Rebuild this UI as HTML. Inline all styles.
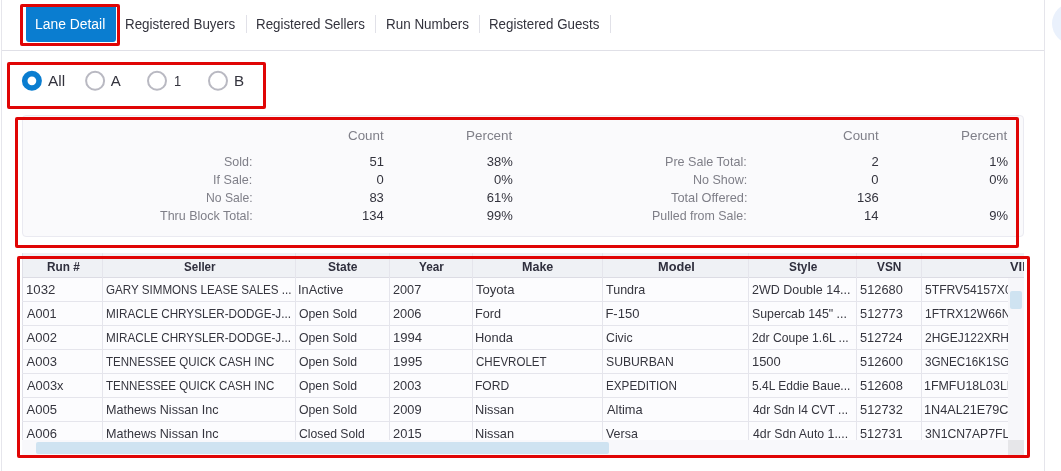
<!DOCTYPE html>
<html lang="en"><head><meta charset="utf-8"><title>Lane Detail</title>
<style>
html,body{margin:0;padding:0;background:#fff;}
body{width:1061px;height:471px;position:relative;overflow:hidden;font-family:"Liberation Sans", sans-serif;}
.t{position:absolute;white-space:pre;line-height:1;transform-origin:0 0;}
i{position:absolute;display:block;}
.sep{width:1px;top:15px;height:18px;background:#e1e1e8;}
.rd{top:70.8px;width:20px;height:20px;box-sizing:border-box;border:2px solid #b9b9c2;border-radius:50%;background:#fff;}
.red{box-sizing:border-box;border:3px solid #e00505;border-radius:2px;}
.v{top:253px;width:1px;height:187px;background:#e5e5ec;}
.h{left:22px;width:986px;height:1px;background:#e5e5ec;}
.clip{position:absolute;overflow:hidden;}
</style></head><body>
<i style="left:1px;top:0;width:1px;height:471px;background:#e6e6ec"></i>
<i style="left:1044px;top:0;width:1px;height:471px;background:#e5e5eb"></i>
<i style="left:2px;top:50px;width:1042px;height:1px;background:#e0e0e7"></i>
<i style="left:1051.7px;top:2.7px;width:41.8px;height:41.8px;border-radius:50%;background:#eaf1fc"></i>
<i style="left:26px;top:6px;width:90.4px;height:36.3px;background:#0a7dd0;border-radius:0 0 3px 3px"></i>
<i class="sep" style="left:246px"></i><i class="sep" style="left:375px"></i><i class="sep" style="left:479px"></i><i class="sep" style="left:610px"></i>
<svg style="position:absolute;left:0;top:60px" width="270" height="50" viewBox="0 60 270 50"><circle cx="31.9" cy="80.8" r="7.2" fill="#fff" stroke="#0a7dd0" stroke-width="5.6"/><circle cx="95.1" cy="80.8" r="9" fill="#fff" stroke="#b9b9c2" stroke-width="2"/><circle cx="157.0" cy="80.8" r="9" fill="#fff" stroke="#b9b9c2" stroke-width="2"/><circle cx="218.0" cy="80.8" r="9" fill="#fff" stroke="#b9b9c2" stroke-width="2"/></svg>
<i style="left:22px;top:115px;width:1002px;height:122px;box-sizing:border-box;border:1px solid #eaeaf1;border-radius:4px;background:#fafafc"></i>
<i style="left:22px;top:253px;width:1002px;height:203px;background:#fcfcfe"></i>
<i style="left:22px;top:253px;width:1002px;height:24px;background:#eff1f5"></i>
<i style="left:22px;top:253px;width:1px;height:203px;background:#dfdfe7"></i>
<i style="left:22px;top:277px;width:1002px;height:1px;background:#dcdce4"></i>
<i class="v" style="left:102px"></i><i class="v" style="left:295px"></i><i class="v" style="left:389px"></i><i class="v" style="left:472px"></i><i class="v" style="left:602px"></i><i class="v" style="left:748px"></i><i class="v" style="left:856px"></i><i class="v" style="left:921px"></i><i class="h" style="top:301px"></i><i class="h" style="top:325px"></i><i class="h" style="top:349px"></i><i class="h" style="top:373px"></i><i class="h" style="top:397px"></i><i class="h" style="top:421px"></i><i class="h" style="top:445px"></i>
<i style="left:1008px;top:278px;width:16px;height:162px;background:#f7f7fa"></i>
<i style="left:22px;top:440px;width:986px;height:16px;background:#f8f8fb"></i>
<i style="left:1008px;top:440px;width:16px;height:16px;background:#e6e6e9"></i>
<i style="left:36px;top:442px;width:573px;height:12px;background:#cfe3f1;border-radius:2px"></i>
<i style="left:1010px;top:291px;width:12px;height:18px;background:#cfe3f1;border-radius:2px"></i>
<div class="clip" style="left:0;top:0;width:1023.5px;height:471px"><span class="t" style="left:1009.53px;top:260.64px;font-size:12px;color:#2f2f3d;font-weight:700;transform:scaleX(1.0701);">VIN</span></div>
<div class="clip" style="left:0;top:0;width:1008px;height:471px"><span class="t" style="left:924.93px;top:283.00px;font-size:13px;color:#35353e;transform:scaleX(0.9318);">5TFRV54157X0</span><span class="t" style="left:924.50px;top:307.00px;font-size:13px;color:#35353e;transform:scaleX(0.9304);">1FTRX12W66N</span><span class="t" style="left:924.82px;top:331.00px;font-size:13px;color:#35353e;transform:scaleX(0.9231);">2HGEJ122XRH</span><span class="t" style="left:924.98px;top:355.00px;font-size:13px;color:#35353e;transform:scaleX(0.8973);">3GNEC16K1SG</span><span class="t" style="left:924.47px;top:379.00px;font-size:13px;color:#35353e;transform:scaleX(0.9553);">1FMFU18L03LB</span><span class="t" style="left:924.46px;top:403.00px;font-size:13px;color:#35353e;transform:scaleX(0.9733);">1N4AL21E79C</span><span class="t" style="left:924.96px;top:427.00px;font-size:13px;color:#35353e;transform:scaleX(0.9412);">3N1CN7AP7FL</span></div>
<span class="t" style="left:35.18px;top:17.45px;font-size:14px;color:#ffffff;transform:scaleX(0.9915);">Lane Detail</span><span class="t" style="left:125.42px;top:17.45px;font-size:14px;color:#33333d;transform:scaleX(0.9566);">Registered Buyers</span><span class="t" style="left:255.93px;top:17.45px;font-size:14px;color:#33333d;transform:scaleX(0.9525);">Registered Sellers</span><span class="t" style="left:385.52px;top:17.45px;font-size:14px;color:#33333d;transform:scaleX(0.9605);">Run Numbers</span><span class="t" style="left:489.13px;top:17.45px;font-size:14px;color:#33333d;transform:scaleX(0.9518);">Registered Guests</span><span class="t" style="left:48.20px;top:73.30px;font-size:15px;color:#33333d;transform:scaleX(1.0263);">All</span><span class="t" style="left:110.80px;top:73.30px;font-size:15px;color:#33333d;">A</span><span class="t" style="left:173.63px;top:73.30px;font-size:15px;color:#33333d;transform:scaleX(0.8615);">1</span><span class="t" style="left:233.67px;top:73.30px;font-size:15px;color:#33333d;transform:scaleX(1.0125);">B</span><span class="t" style="left:348.23px;top:129.00px;font-size:13px;color:#7f7f88;transform:scaleX(1.0274);">Count</span><span class="t" style="left:843.33px;top:129.00px;font-size:13px;color:#7f7f88;transform:scaleX(1.0274);">Count</span><span class="t" style="left:466.40px;top:129.00px;font-size:13px;color:#7f7f88;transform:scaleX(1.0331);">Percent</span><span class="t" style="left:961.40px;top:129.00px;font-size:13px;color:#7f7f88;transform:scaleX(1.0331);">Percent</span><span class="t" style="left:224.06px;top:155.00px;font-size:13px;color:#7f7f88;transform:scaleX(0.9568);">Sold:</span><span class="t" style="left:213.25px;top:173.00px;font-size:13px;color:#7f7f88;transform:scaleX(0.9687);">If Sale:</span><span class="t" style="left:205.70px;top:191.00px;font-size:13px;color:#7f7f88;transform:scaleX(0.9365);">No Sale:</span><span class="t" style="left:159.63px;top:209.00px;font-size:13px;color:#7f7f88;transform:scaleX(0.9608);">Thru Block Total:</span><span class="t" style="left:665.37px;top:155.00px;font-size:13px;color:#7f7f88;transform:scaleX(0.9688);">Pre Sale Total:</span><span class="t" style="left:692.68px;top:173.00px;font-size:13px;color:#7f7f88;transform:scaleX(0.9644);">No Show:</span><span class="t" style="left:670.52px;top:191.00px;font-size:13px;color:#7f7f88;transform:scaleX(0.9837);">Total Offered:</span><span class="t" style="left:652.38px;top:209.00px;font-size:13px;color:#7f7f88;transform:scaleX(0.9561);">Pulled from Sale:</span><span class="t" style="left:369.46px;top:155.00px;font-size:13px;color:#33333d;">51</span><span class="t" style="left:376.55px;top:173.00px;font-size:13px;color:#33333d;">0</span><span class="t" style="left:369.39px;top:191.00px;font-size:13px;color:#33333d;">83</span><span class="t" style="left:361.96px;top:209.00px;font-size:13px;color:#33333d;">134</span><span class="t" style="left:486.71px;top:155.00px;font-size:13px;color:#33333d;">38%</span><span class="t" style="left:493.96px;top:173.00px;font-size:13px;color:#33333d;">0%</span><span class="t" style="left:486.71px;top:191.00px;font-size:13px;color:#33333d;">61%</span><span class="t" style="left:486.71px;top:209.00px;font-size:13px;color:#33333d;">99%</span><span class="t" style="left:871.51px;top:155.00px;font-size:13px;color:#33333d;">2</span><span class="t" style="left:871.35px;top:173.00px;font-size:13px;color:#33333d;">0</span><span class="t" style="left:856.94px;top:191.00px;font-size:13px;color:#33333d;">136</span><span class="t" style="left:864.01px;top:209.00px;font-size:13px;color:#33333d;">14</span><span class="t" style="left:989.16px;top:155.00px;font-size:13px;color:#33333d;">1%</span><span class="t" style="left:989.16px;top:173.00px;font-size:13px;color:#33333d;">0%</span><span class="t" style="left:989.16px;top:209.00px;font-size:13px;color:#33333d;">9%</span><span class="t" style="left:47.03px;top:260.64px;font-size:12px;color:#2f2f3d;font-weight:700;transform:scaleX(0.9822);">Run #</span><span class="t" style="left:183.87px;top:260.64px;font-size:12px;color:#2f2f3d;font-weight:700;transform:scaleX(0.9662);">Seller</span><span class="t" style="left:328.06px;top:260.64px;font-size:12px;color:#2f2f3d;font-weight:700;">State</span><span class="t" style="left:419.12px;top:260.64px;font-size:12px;color:#2f2f3d;font-weight:700;transform:scaleX(0.9800);">Year</span><span class="t" style="left:522.08px;top:260.64px;font-size:12px;color:#2f2f3d;font-weight:700;transform:scaleX(1.0436);">Make</span><span class="t" style="left:657.77px;top:260.64px;font-size:12px;color:#2f2f3d;font-weight:700;transform:scaleX(1.0647);">Model</span><span class="t" style="left:788.66px;top:260.64px;font-size:12px;color:#2f2f3d;font-weight:700;transform:scaleX(0.9843);">Style</span><span class="t" style="left:877.34px;top:260.64px;font-size:12px;color:#2f2f3d;font-weight:700;transform:scaleX(0.9869);">VSN</span><span class="t" style="left:25.62px;top:283.00px;font-size:13px;color:#35353e;transform:scaleX(1.0160);">1032</span><span class="t" style="left:106.04px;top:283.00px;font-size:13px;color:#35353e;transform:scaleX(0.8937);">GARY SIMMONS LEASE SALES ...</span><span class="t" style="left:298.34px;top:283.00px;font-size:13px;color:#35353e;transform:scaleX(0.9805);">InActive</span><span class="t" style="left:393.29px;top:283.00px;font-size:13px;color:#35353e;transform:scaleX(0.9763);">2007</span><span class="t" style="left:476.02px;top:283.00px;font-size:13px;color:#35353e;transform:scaleX(1.0044);">Toyota</span><span class="t" style="left:606.23px;top:283.00px;font-size:13px;color:#35353e;transform:scaleX(0.9620);">Tundra</span><span class="t" style="left:752.20px;top:283.00px;font-size:13px;color:#35353e;transform:scaleX(0.9602);">2WD Double 14...</span><span class="t" style="left:860.11px;top:283.00px;font-size:13px;color:#35353e;transform:scaleX(0.9857);">512680</span><span class="t" style="left:26.60px;top:307.00px;font-size:13px;color:#35353e;transform:scaleX(0.9748);">A001</span><span class="t" style="left:105.64px;top:307.00px;font-size:13px;color:#35353e;transform:scaleX(0.8993);">MIRACLE CHRYSLER-DODGE-J...</span><span class="t" style="left:298.94px;top:307.00px;font-size:13px;color:#35353e;transform:scaleX(0.9433);">Open Sold</span><span class="t" style="left:393.29px;top:307.00px;font-size:13px;color:#35353e;transform:scaleX(0.9838);">2006</span><span class="t" style="left:475.27px;top:307.00px;font-size:13px;color:#35353e;transform:scaleX(0.9741);">Ford</span><span class="t" style="left:605.43px;top:307.00px;font-size:13px;color:#35353e;">F-150</span><span class="t" style="left:752.27px;top:307.00px;font-size:13px;color:#35353e;transform:scaleX(0.9483);">Supercab 145" ...</span><span class="t" style="left:860.11px;top:307.00px;font-size:13px;color:#35353e;transform:scaleX(0.9872);">512773</span><span class="t" style="left:26.60px;top:331.00px;font-size:13px;color:#35353e;">A002</span><span class="t" style="left:105.64px;top:331.00px;font-size:13px;color:#35353e;transform:scaleX(0.8993);">MIRACLE CHRYSLER-DODGE-J...</span><span class="t" style="left:298.94px;top:331.00px;font-size:13px;color:#35353e;transform:scaleX(0.9433);">Open Sold</span><span class="t" style="left:392.92px;top:331.00px;font-size:13px;color:#35353e;transform:scaleX(1.0075);">1994</span><span class="t" style="left:475.25px;top:331.00px;font-size:13px;color:#35353e;transform:scaleX(0.9925);">Honda</span><span class="t" style="left:605.88px;top:331.00px;font-size:13px;color:#35353e;transform:scaleX(0.9464);">Civic</span><span class="t" style="left:752.22px;top:331.00px;font-size:13px;color:#35353e;transform:scaleX(0.9334);">2dr Coupe 1.6L ...</span><span class="t" style="left:860.11px;top:331.00px;font-size:13px;color:#35353e;transform:scaleX(0.9828);">512724</span><span class="t" style="left:26.60px;top:355.00px;font-size:13px;color:#35353e;">A003</span><span class="t" style="left:106.35px;top:355.00px;font-size:13px;color:#35353e;transform:scaleX(0.8891);">TENNESSEE QUICK CASH INC</span><span class="t" style="left:298.94px;top:355.00px;font-size:13px;color:#35353e;transform:scaleX(0.9433);">Open Sold</span><span class="t" style="left:392.92px;top:355.00px;font-size:13px;color:#35353e;transform:scaleX(1.0144);">1995</span><span class="t" style="left:475.72px;top:355.00px;font-size:13px;color:#35353e;transform:scaleX(0.8888);">CHEVROLET</span><span class="t" style="left:605.97px;top:355.00px;font-size:13px;color:#35353e;transform:scaleX(0.9373);">SUBURBAN</span><span class="t" style="left:751.84px;top:355.00px;font-size:13px;color:#35353e;transform:scaleX(0.9939);">1500</span><span class="t" style="left:860.11px;top:355.00px;font-size:13px;color:#35353e;transform:scaleX(0.9857);">512600</span><span class="t" style="left:26.60px;top:379.00px;font-size:13px;color:#35353e;transform:scaleX(0.9905);">A003x</span><span class="t" style="left:106.35px;top:379.00px;font-size:13px;color:#35353e;transform:scaleX(0.8891);">TENNESSEE QUICK CASH INC</span><span class="t" style="left:298.94px;top:379.00px;font-size:13px;color:#35353e;transform:scaleX(0.9433);">Open Sold</span><span class="t" style="left:393.29px;top:379.00px;font-size:13px;color:#35353e;transform:scaleX(0.9838);">2003</span><span class="t" style="left:475.31px;top:379.00px;font-size:13px;color:#35353e;transform:scaleX(0.9273);">FORD</span><span class="t" style="left:605.54px;top:379.00px;font-size:13px;color:#35353e;transform:scaleX(0.9005);">EXPEDITION</span><span class="t" style="left:752.34px;top:379.00px;font-size:13px;color:#35353e;transform:scaleX(0.9236);">5.4L Eddie Baue...</span><span class="t" style="left:860.11px;top:379.00px;font-size:13px;color:#35353e;transform:scaleX(0.9872);">512608</span><span class="t" style="left:26.60px;top:403.00px;font-size:13px;color:#35353e;">A005</span><span class="t" style="left:105.57px;top:403.00px;font-size:13px;color:#35353e;transform:scaleX(0.9669);">Mathews Nissan Inc</span><span class="t" style="left:298.94px;top:403.00px;font-size:13px;color:#35353e;transform:scaleX(0.9433);">Open Sold</span><span class="t" style="left:393.28px;top:403.00px;font-size:13px;color:#35353e;transform:scaleX(0.9860);">2009</span><span class="t" style="left:475.26px;top:403.00px;font-size:13px;color:#35353e;transform:scaleX(0.9830);">Nissan</span><span class="t" style="left:606.50px;top:403.00px;font-size:13px;color:#35353e;transform:scaleX(0.9855);">Altima</span><span class="t" style="left:752.54px;top:403.00px;font-size:13px;color:#35353e;transform:scaleX(0.9155);">4dr Sdn I4 CVT ...</span><span class="t" style="left:860.11px;top:403.00px;font-size:13px;color:#35353e;transform:scaleX(0.9893);">512732</span><span class="t" style="left:26.60px;top:427.00px;font-size:13px;color:#35353e;">A006</span><span class="t" style="left:105.57px;top:427.00px;font-size:13px;color:#35353e;transform:scaleX(0.9669);">Mathews Nissan Inc</span><span class="t" style="left:298.88px;top:427.00px;font-size:13px;color:#35353e;transform:scaleX(0.9384);">Closed Sold</span><span class="t" style="left:393.28px;top:427.00px;font-size:13px;color:#35353e;transform:scaleX(0.9946);">2015</span><span class="t" style="left:475.26px;top:427.00px;font-size:13px;color:#35353e;transform:scaleX(0.9830);">Nissan</span><span class="t" style="left:606.47px;top:427.00px;font-size:13px;color:#35353e;transform:scaleX(0.9573);">Versa</span><span class="t" style="left:752.53px;top:427.00px;font-size:13px;color:#35353e;transform:scaleX(0.9465);">4dr Sdn Auto 1....</span><span class="t" style="left:860.11px;top:427.00px;font-size:13px;color:#35353e;transform:scaleX(0.9815);">512731</span>
<i class="red" style="left:20px;top:4px;width:100px;height:42px"></i>
<i class="red" style="left:7.4px;top:62px;width:258.2px;height:46.7px"></i>
<i class="red" style="left:15px;top:116.8px;width:1003.8px;height:131px"></i>
<i class="red" style="left:17.2px;top:256px;width:1012.8px;height:201.8px"></i>
</body></html>
